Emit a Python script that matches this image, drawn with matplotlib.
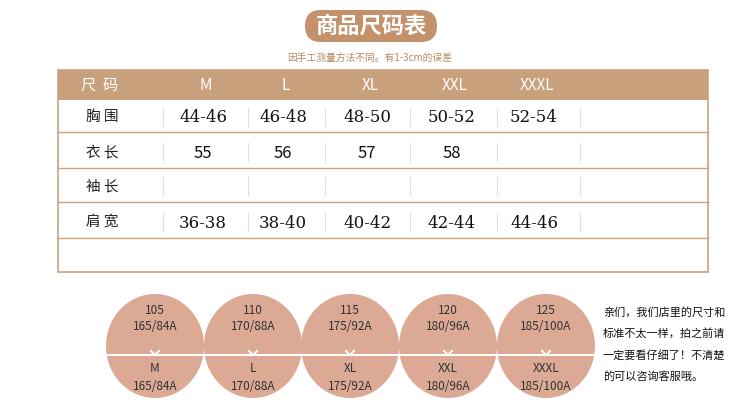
import matplotlib.pyplot as plt
from matplotlib.patches import FancyBboxPatch, Rectangle, Ellipse

plt.rcParams["font.family"] = ["Noto Sans CJK SC", "DejaVu Sans"]

sizes = ["M", "L", "XL", "XXL", "XXXL"]
row_names = ["胸 围", "衣 长", "袖 长", "肩 宽"]
chest = ["44-46", "46-48", "48-50", "50-52", "52-54"]
length = ["55", "56", "57", "58", ""]
sleeve = ["", "", "", "", ""]
shoulder = ["36-38", "38-40", "40-42", "42-44", "44-46"]
weights = ["105", "110", "115", "120", "125"]
heights = ["165/84A", "170/88A", "175/92A", "180/96A", "185/100A"]
note = ["亲们，我们店里的尺寸和", "标准不太一样，拍之前请", "一定要看仔细了！不清楚", "的可以咨询客服哦。"]

fig = plt.figure(figsize=(7.5, 4.03), dpi=100)
ax = fig.add_axes([0, 0, 1, 1])
ax.set_xlim(0, 750)
ax.set_ylim(403, 0)
ax.axis("off")

brown = "#c3926c"
line = "#c9a27f"

# title
ax.add_patch(FancyBboxPatch((305, 10), 132, 32, boxstyle="round,pad=0,rounding_size=16",
                            fc=brown, ec="none"))
ax.text(371, 26, "商品尺码表", ha="center", va="center", fontsize=16, color="white",
        fontweight="bold")
ax.text(370, 58, "因手工测量方法不同。有1-3cm的误差", ha="center", va="center",
        fontsize=7, color="#b8875e")

# table
ax.add_patch(Rectangle((58, 70), 650, 202, fc="white", ec=line, lw=1.2))
ax.add_patch(Rectangle((58, 70), 650, 30, fc="#c8a07c", ec="none"))
col_x = [206, 286, 370, 455, 537]
ax.text(100, 85, "尺  码", ha="center", va="center", fontsize=11, color="white")
for x, s in zip(col_x, sizes):
    ax.text(x, 85, s, ha="center", va="center", fontsize=11, color="white")

row_y = [117, 152, 186, 222]
for y in [132, 168, 202, 238]:
    ax.plot([58, 708], [y, y], color=line, lw=1)
seps = [163, 248, 325, 410, 497, 580]
for y, name, vals in zip(row_y, row_names, [chest, length, sleeve, shoulder]):
    ax.text(102, y, name, ha="center", va="center", fontsize=10.5, color="#222222")
    for x in seps:
        ax.plot([x, x], [y - 9, y + 9], color="#dddddd", lw=0.8)
    for x, v in zip(col_x, vals):
        ax.text(x - 3, y + 1, v, ha="center", va="center", fontsize=12, color="#111111",
                family="DejaVu Serif" if "-" in v else None)

# circles
cx = [155, 253, 350, 448, 546]
for x, w, h, s in zip(cx, weights, heights, sizes):
    ax.add_patch(Ellipse((x, 346), 98, 104, fc="#dba994", ec="none"))
    ax.text(x, 310, w, ha="center", va="center", fontsize=8.5, color="#333333")
    ax.text(x, 327, h, ha="center", va="center", fontsize=8.5, color="#333333")
    ax.text(x, 369, s, ha="center", va="center", fontsize=8.5, color="#333333")
    ax.text(x, 386, h, ha="center", va="center", fontsize=8.5, color="#333333")
ax.plot([108, 596], [355, 355], color="white", lw=1.5)
for x in cx:
    ax.plot([x - 4, x, x + 4], [351, 355, 351], color="white", lw=1.5)
for i, t in enumerate(note):
    ax.text(603, 312 + i * 21.5, t, ha="left", va="center", fontsize=8, color="#111111")

fig.savefig("out.png", dpi=100)
